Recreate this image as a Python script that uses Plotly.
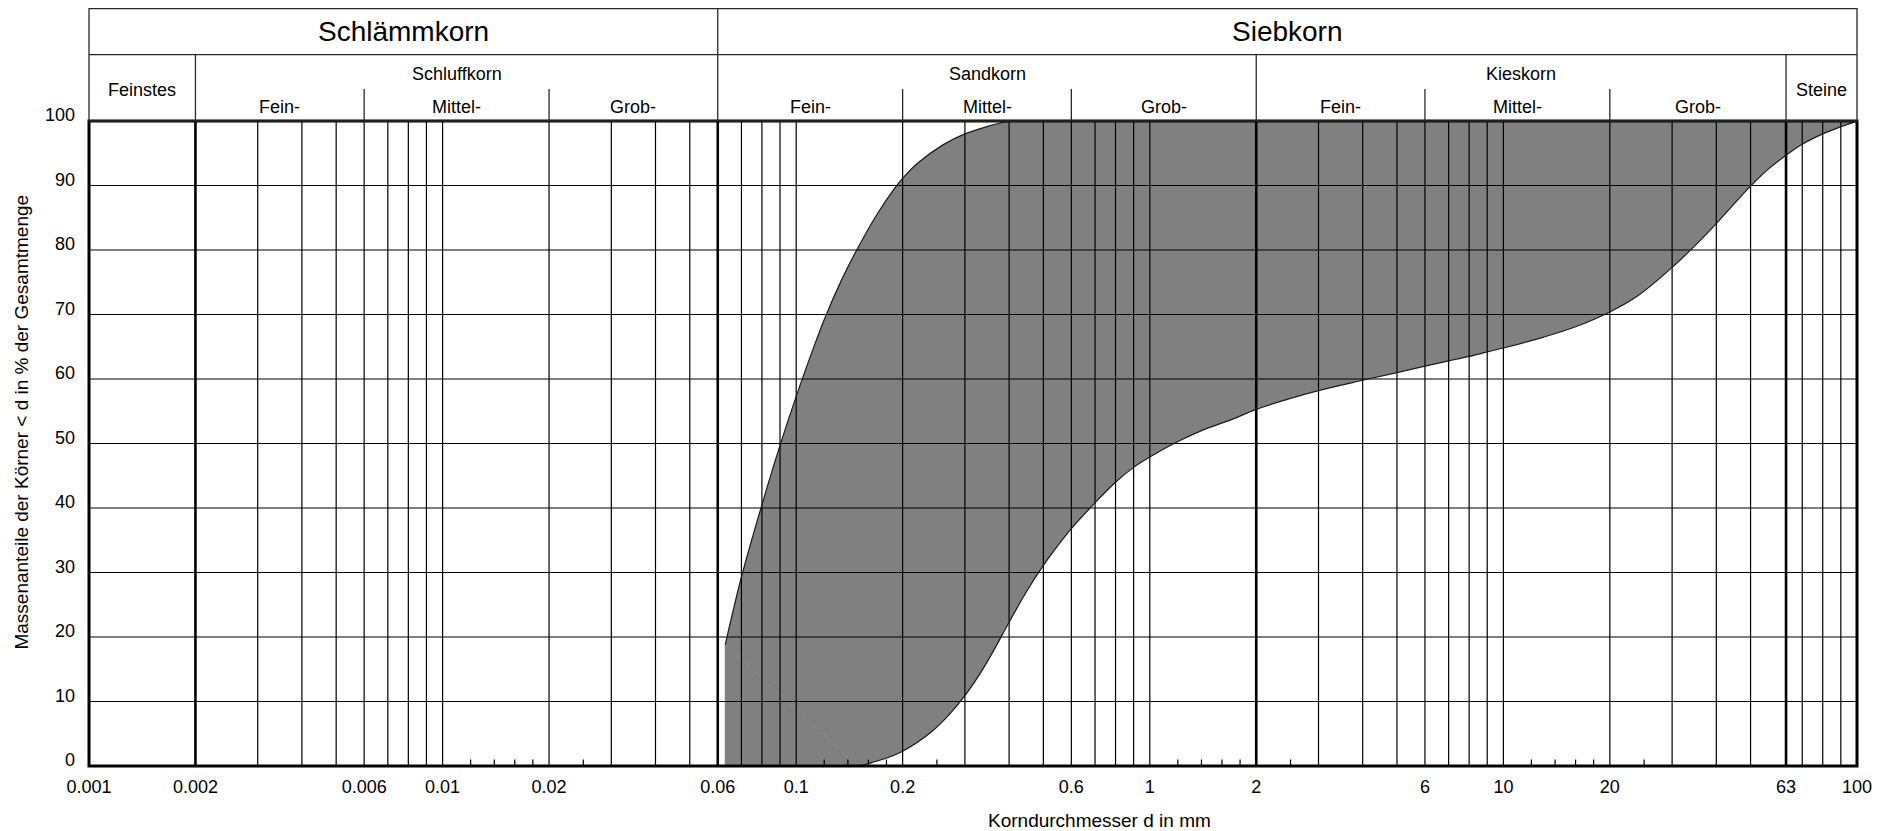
import math
import plotly.graph_objects as go

# ---------------- data ----------------
# upper boundary curve of the grading band (grain size in mm, passing %)
upper_d = [0.063, 0.070, 0.080, 0.090, 0.100, 0.110, 0.120, 0.135, 0.150, 0.170,
           0.190, 0.200, 0.220, 0.260, 0.300, 0.350, 0.400]
upper_p = [18.8, 29.3, 40.5, 49.7, 57.3, 63.7, 69.2, 75.6, 80.5, 85.7,
           89.6, 91.1, 93.4, 96.3, 98.0, 99.2, 100.0]

# lower boundary curve
lower_d = [0.150, 0.175, 0.20, 0.24, 0.27, 0.30, 0.33, 0.36, 0.40, 0.45, 0.50, 0.55,
           0.60, 0.70, 0.80, 0.90, 1.0, 1.2, 1.4, 1.7, 2.0, 2.5, 3, 4, 5, 6, 7, 8, 9,
           10, 13, 16, 20, 24, 30, 35, 40, 45, 50, 56, 63, 70, 80, 90, 100]
lower_p = [0.0, 1.0, 2.3, 5.2, 7.9, 10.9, 14.2, 17.7, 22.3, 27.2, 31.1, 34.2,
           36.8, 40.8, 44.0, 46.3, 47.9, 50.3, 52.0, 53.7, 55.3, 57.0, 58.2, 59.8,
           61.0, 62.0, 62.8, 63.5, 64.2, 64.8, 66.5, 68.1, 70.4, 72.9, 77.3, 80.8,
           84.1, 87.2, 89.9, 92.5, 94.7, 96.4, 98.0, 99.1, 100.0]

# grid / tick values
thin_grid = [0.003, 0.004, 0.005, 0.006, 0.007, 0.008, 0.009, 0.01, 0.02, 0.03, 0.04,
             0.05, 0.07, 0.08, 0.09, 0.1, 0.2, 0.3, 0.4, 0.5, 0.6, 0.7, 0.8, 0.9, 1,
             3, 4, 5, 6, 7, 8, 9, 10, 20, 30, 40, 50, 70, 80, 90]
thick_grid = [0.002, 0.06, 2, 63]
h_grid = [10, 20, 30, 40, 50, 60, 70, 80, 90]
short_ticks = [0.012, 0.014, 0.016, 0.018, 0.025, 0.12, 0.14, 0.16, 0.18, 0.25,
               1.2, 1.4, 1.6, 1.8, 2.5, 12, 14, 16, 18, 25]
x_tickvals = [0.001, 0.002, 0.006, 0.01, 0.02, 0.06, 0.1, 0.2, 0.6, 1, 2, 6, 10, 20, 63, 100]
x_ticktext = ["0.001", "0.002", "0.006", "0.01", "0.02", "0.06", "0.1", "0.2", "0.6",
              "1", "2", "6", "10", "20", "63", "100"]
y_tickvals = [0, 10, 20, 30, 40, 50, 60, 70, 80, 90, 100]

# header classification
main_groups = [("Schlämmkorn", 0.001, 0.06), ("Siebkorn", 0.06, 100)]
mid_groups = [("Feinstes", 0.001, 0.002, "single"), ("Schluffkorn", 0.002, 0.06, "group"),
              ("Sandkorn", 0.06, 2, "group"), ("Kieskorn", 2, 63, "group"),
              ("Steine", 63, 100, "single")]
sub_groups = [("Fein-", 0.002, 0.006), ("Mittel-", 0.006, 0.02), ("Grob-", 0.02, 0.06),
              ("Fein-", 0.06, 0.2), ("Mittel-", 0.2, 0.6), ("Grob-", 0.6, 2),
              ("Fein-", 2, 6), ("Mittel-", 6, 20), ("Grob-", 20, 63)]
row2_dividers = [0.002, 2, 63]
sub_dividers = [0.006, 0.02, 0.2, 0.6, 6, 20]

# ---------------- figure ----------------
FONT = "Liberation Sans, Arial, Helvetica, sans-serif"
FILL = "#808080"
TICK_LEN = 1.0
H_TOP, H_ROW1, H_SHORT = 1.1743, 1.1030, 1.0495
Y_MID, Y_SUB, Y_SINGLE, Y_MAIN = 1.0729, 1.0212, 1.0476, 1.1386
SPL = dict(shape="spline", smoothing=1.0)


def segs_vertical(vals, y0, y1):
    xs, ys = [], []
    for v in vals:
        xs += [v, v, None]
        ys += [y0, y1, None]
    return xs, ys


def segs_horizontal(vals, x0, x1):
    xs, ys = [], []
    for v in vals:
        xs += [x0, x1, None]
        ys += [v, v, None]
    return xs, ys


def log_center(a, b):
    # annotation x on a log axis is given in log10 units
    return (math.log10(a) + math.log10(b)) / 2


fig = go.Figure()

# filled band: lower curve, then upper curve filled to it
fig.add_trace(go.Scatter(x=lower_d, y=lower_p, mode="lines",
                         line=dict(width=0, color=FILL, **SPL), hoverinfo="skip"))
fig.add_trace(go.Scatter(x=upper_d, y=upper_p, mode="lines", fill="tonexty",
                         fillcolor=FILL, line=dict(width=0, color=FILL, **SPL),
                         hoverinfo="skip"))
# bottom-left corner of the band (vertical start of the upper curve)
fig.add_trace(go.Scatter(x=[upper_d[0], upper_d[0], lower_d[0]],
                         y=[0, upper_p[0], lower_p[0]], mode="lines", fill="toself",
                         fillcolor=FILL, line=dict(width=1, color=FILL),
                         hoverinfo="skip"))

# grid lines (drawn above the fill)
gx, gy = segs_vertical(thin_grid, 0, 100)
hx, hy = segs_horizontal(h_grid, 0.001, 100)
fig.add_trace(go.Scatter(x=gx + hx, y=gy + hy, mode="lines",
                         line=dict(color="#000000", width=1.2), hoverinfo="skip"))
tx, ty = segs_vertical(thick_grid, 0, 100)
fig.add_trace(go.Scatter(x=tx, y=ty, mode="lines",
                         line=dict(color="#000000", width=2.6), hoverinfo="skip"))
sx, sy = segs_vertical(short_ticks, 0, TICK_LEN)
fig.add_trace(go.Scatter(x=sx, y=sy, mode="lines",
                         line=dict(color="#000000", width=1.2), hoverinfo="skip"))

# curve outlines
fig.add_trace(go.Scatter(x=upper_d, y=upper_p, mode="lines",
                         line=dict(color="#1a1a1a", width=1.2, **SPL), hoverinfo="skip"))
fig.add_trace(go.Scatter(x=lower_d, y=lower_p, mode="lines",
                         line=dict(color="#1a1a1a", width=1.2, **SPL), hoverinfo="skip"))

shapes = []
# plot border
shapes.append(dict(type="rect", xref="paper", yref="paper", x0=0, x1=1, y0=0, y1=1,
                   line=dict(color="#000000", width=3), layer="above"))
# header frame
hl = dict(color="#2a2a2a", width=1.3)
shapes.append(dict(type="rect", xref="paper", yref="paper", x0=0, x1=1, y0=1, y1=H_TOP,
                   line=hl, layer="above"))
shapes.append(dict(type="line", xref="paper", yref="paper", x0=0, x1=1, y0=H_ROW1, y1=H_ROW1,
                   line=hl, layer="above"))
shapes.append(dict(type="line", xref="x", yref="paper", x0=main_groups[0][2], x1=main_groups[0][2],
                   y0=1, y1=H_TOP, line=hl, layer="above"))
for v in row2_dividers:
    shapes.append(dict(type="line", xref="x", yref="paper", x0=v, x1=v, y0=1, y1=H_ROW1,
                       line=hl, layer="above"))
for v in sub_dividers:
    shapes.append(dict(type="line", xref="x", yref="paper", x0=v, x1=v, y0=1, y1=H_SHORT,
                       line=hl, layer="above"))

annotations = []
for name, a, b in main_groups:
    annotations.append(dict(x=log_center(a, b), y=Y_MAIN, xref="x", yref="paper", text=name,
                            xanchor="center", yanchor="middle", showarrow=False,
                            font=dict(size=28, color="#000000", family=FONT)))
for name, a, b, kind in mid_groups:
    annotations.append(dict(x=log_center(a, b), y=Y_SINGLE if kind == "single" else Y_MID,
                            xref="x", yref="paper", text=name, showarrow=False,
                            xanchor="center", yanchor="middle",
                            font=dict(size=18, color="#000000", family=FONT)))
for name, a, b in sub_groups:
    annotations.append(dict(x=log_center(a, b), y=Y_SUB, xref="x", yref="paper", text=name,
                            xanchor="center", yanchor="middle", showarrow=False,
                            font=dict(size=18, color="#000000", family=FONT)))
# axis titles
annotations.append(dict(x=-0.0379, y=0.534, xref="paper", yref="paper",
                        text="Massenanteile der Körner < d in % der Gesamtmenge",
                        textangle=-90, showarrow=False, xanchor="center", yanchor="middle",
                        font=dict(size=19, color="#000000", family=FONT)))
annotations.append(dict(x=0.5713, y=-0.0845, xref="paper", yref="paper",
                        text="Korndurchmesser d in mm", showarrow=False,
                        xanchor="center", yanchor="middle",
                        font=dict(size=19, color="#000000", family=FONT)))

fig.update_layout(
    width=1885, height=823,
    margin=dict(l=81, r=36, t=113, b=65),
    paper_bgcolor="#ffffff", plot_bgcolor="#ffffff",
    showlegend=False, hovermode=False,
    font=dict(family=FONT, color="#000000", size=18),
    shapes=shapes, annotations=annotations,
    xaxis=dict(type="log", range=[-3, 2], showgrid=False, zeroline=False,
               tickmode="array", tickvals=x_tickvals, ticktext=x_ticktext,
               ticks="", showline=False, ticklabelstandoff=8,
               tickfont=dict(size=18, family=FONT, color="#000000")),
    yaxis=dict(range=[0, 100], showgrid=False, zeroline=False,
               tickmode="array", tickvals=y_tickvals,
               ticks="", showline=False, ticklabelstandoff=13, ticklabelshift=-6,
               tickfont=dict(size=18, family=FONT, color="#000000")),
)

fig.write_html("out.html", config={"displayModeBar": False})
